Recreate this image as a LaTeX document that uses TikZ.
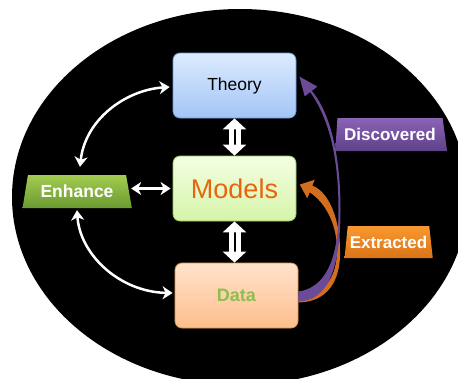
\documentclass[tikz,border=0pt]{standalone}
\usepackage{fontspec}
\setmainfont{Liberation Sans}
\usetikzlibrary{shapes.geometric,arrows.meta}

\definecolor{TheoryTop}{HTML}{DDEBFF}
\definecolor{TheoryBottom}{HTML}{A2C5F6}
\definecolor{TheoryLine}{HTML}{6A9BE0}
\definecolor{ModelsTop}{HTML}{F4FFE3}
\definecolor{ModelsBottom}{HTML}{D5F4A8}
\definecolor{ModelsLine}{HTML}{97C963}
\definecolor{ModelsText}{HTML}{E8640E}
\definecolor{DataTop}{HTML}{FFE3CC}
\definecolor{DataBottom}{HTML}{FDBE8C}
\definecolor{DataLine}{HTML}{E6923F}
\definecolor{DataText}{HTML}{8DBE4E}
\definecolor{EnhanceTop}{HTML}{A3CB50}
\definecolor{EnhanceBottom}{HTML}{6A9A31}
\definecolor{DiscoveredTop}{HTML}{8A63B5}
\definecolor{DiscoveredBottom}{HTML}{5E4189}
\definecolor{DiscoveredArrow}{HTML}{6B4B98}
\definecolor{ExtractedTop}{HTML}{F9982F}
\definecolor{ExtractedBottom}{HTML}{DA7418}
\definecolor{ExtractedArrow}{HTML}{D46E1F}

\begin{document}
\begin{tikzpicture}[x=1pt, y=-1pt,
  box/.style={draw, line width=0.8pt, rounded corners=7pt, minimum width=123pt, minimum height=65pt},
  tag/.style={trapezium, trapezium stretches=true, minimum height=33pt, inner sep=2pt, text=white, font=\fontsize{17}{20}\selectfont\bfseries},
  twoway/.style={white, line width=2.5pt, {Stealth[length=10pt,width=13pt,inset=3pt]}-{Stealth[length=10pt,width=13pt,inset=3pt]}},
  bigtwoway/.style={white, line width=5pt, double=black, double distance=2pt, {Triangle[length=11pt,width=23pt]}-{Triangle[length=11pt,width=23pt]}}]

  % Background
  \useasboundingbox (0,0) rectangle (458,378);
  \fill[white] (0,0) rectangle (458,378);
  \begin{scope}
    \clip (0,0) rectangle (458,378);
    \fill[black] (240,197) ellipse [x radius=228, y radius=188];
  \end{scope}

  % Define nodes
  \node[box, draw=TheoryLine, top color=TheoryTop, bottom color=TheoryBottom, font=\fontsize{17.5}{20}\selectfont] (Theory) at (234.5,85.5) {Theory};
  \node[box, draw=ModelsLine, top color=ModelsTop, bottom color=ModelsBottom, text=ModelsText, font=\fontsize{27}{30}\selectfont] (Models) at (234.5,188.5) {Models};
  \node[box, draw=DataLine, top color=DataTop, bottom color=DataBottom, text=DataText, font=\fontsize{18}{20}\selectfont\bfseries] (Data) at (236.5,295.5) {Data};
  \node[tag, trapezium left angle=76, trapezium right angle=75, minimum width=110pt, top color=EnhanceTop, bottom color=EnhanceBottom, font=\fontsize{17.5}{20}\selectfont\bfseries] (Enhance) at (77,191.5) {Enhance};
  \node[tag, trapezium left angle=83, trapezium right angle=76, minimum width=112pt, top color=DiscoveredTop, bottom color=DiscoveredBottom] (Discovered) at (390,134.5) {Discovered};
  \node[tag, trapezium left angle=79, trapezium right angle=78, minimum width=87pt, minimum height=32pt, top color=ExtractedTop, bottom color=ExtractedBottom] (Extracted) at (388.5,242) {Extracted};

  % Define edges with white arrows
  \draw[twoway] ([shift={(3pt,8pt)}]Enhance.north) .. controls (85,120) and (125,90) .. ([shift={(-3pt,-1.5pt)}]Theory.west);
  \draw[twoway] ([yshift=-2pt]Enhance.south) .. controls (80,255) and (120,292) .. ([shift={(-2pt,2.5pt)}]Data.west);
  \draw[twoway, shorten <=2pt, shorten >=2pt] (Enhance.east |- Models.west) -- (Models.west);
  \draw[bigtwoway] (Theory.south) -- (Models.north);
  \draw[bigtwoway] (Models.south) -- (Models.south |- Data.north);

  % Curved arrows from the data
  \fill[ExtractedArrow] ([yshift=-7pt]Data.east) .. controls (328,302) and (341,280) .. (340,250) .. controls (340,222) and (330,192) .. (312.3,185.7) -- (314.7,179.7) -- (299.8,184.6) -- (307.3,198.3) -- (309.7,192.3) .. controls (326,203) and (337,225) .. (337,250) .. controls (337,280) and (322,296) .. ([yshift=-1pt]Data.east) -- cycle;
  \fill[DiscoveredArrow] ([yshift=4pt]Data.east) .. controls (324,288) and (338.5,262) .. (338.5,210) .. controls (338.5,160) and (330,120) .. (310.2,92.1) -- (304.7,96.4) -- (299.4,76.5) -- (317.3,86.6) -- (311.8,90.9) .. controls (332,115) and (340.5,160) .. (340.5,210) .. controls (340.5,268) and (328,301) .. ([yshift=-6pt]Data.east) -- cycle;
\end{tikzpicture}
\end{document}
